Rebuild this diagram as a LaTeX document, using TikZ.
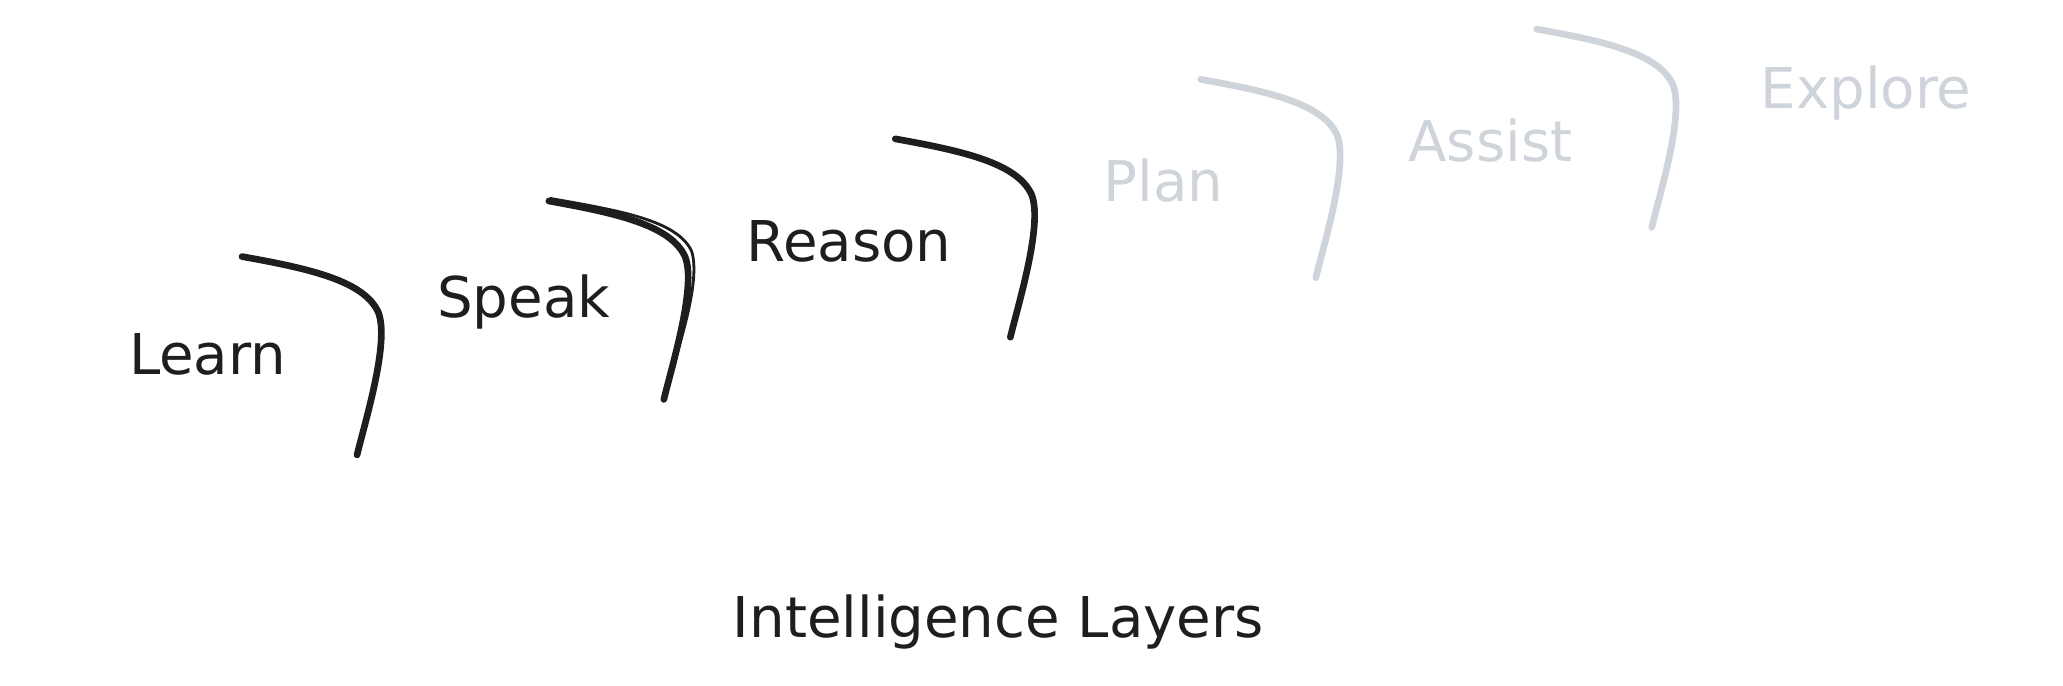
\documentclass[tikz,border=0pt]{standalone}
\usepackage{fontspec}
\setmainfont{DejaVu Sans}
\definecolor{ink}{HTML}{1E1E1E}
\definecolor{faded}{HTML}{CED4DA}
\begin{document}
\begin{tikzpicture}[x=0.013225cm,y=-0.013225cm,
  lbl/.style={font=\fontsize{16}{19}\selectfont, anchor=base, inner sep=0pt},
  stroke/.style={line width=1.9pt, line cap=round, line join=round},
  pics/stair/.style={code={
    \draw[stroke,#1] (0,0) .. controls (50,9) and (92,18) .. (103,42)
      .. controls (112,64) and (93,125) .. (87,150);}},
  pics/stairthin/.style={code={
    \draw[line width=0.8pt, line cap=round,#1] (0,0) .. controls (50,9) and (96,16) .. (107,40)
      .. controls (114,62) and (98,110) .. (92,130);}}]
\useasboundingbox (0,0) rectangle (1560,518);
% labels
\node[lbl, text=ink]   (learn)   at (157,283) {Learn};
\node[lbl, text=ink]   (speak)   at (396,240) {Speak};
\node[lbl, text=ink]   (reason)  at (642,198) {Reason};
\node[lbl, text=faded] (plan)    at (880,152) {Plan};
\node[lbl, text=faded] (assist)  at (1127,122) {Assist};
\node[lbl, text=faded] (explore) at (1411,82) {Explore};
\node[lbl, text=ink]   (title)   at (755,482) {Intelligence Layers};
% steps
\pic at (183,194) {stair=ink};
\pic at (415,152) {stair=ink};
\pic at (416,150) {stairthin=ink};
\pic at (677,105) {stair=ink};
\pic at (908,60) {stair=faded};
\pic at (1162,22) {stair=faded};
\end{tikzpicture}
\end{document}
